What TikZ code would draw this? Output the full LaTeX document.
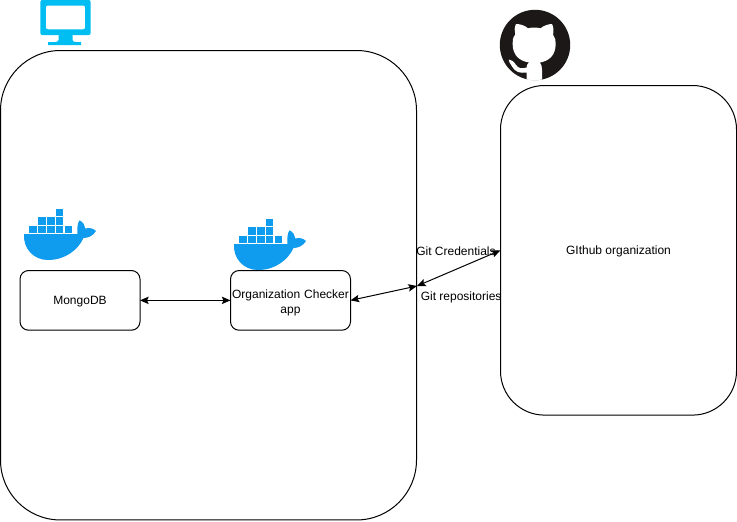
\documentclass[tikz,border=0pt]{standalone}
\usepackage{fontspec}
\setmainfont{Liberation Sans}
\usetikzlibrary{arrows.meta}
\definecolor{whaleblue}{HTML}{0F9BEE}
\definecolor{screenblue}{HTML}{00BEF2}
\definecolor{ghblack}{HTML}{1B1817}
\newcommand{\dn}[1]{\raisebox{-3.4pt}[0pt][0pt]{#1}}
\tikzset{
  box/.style={draw=black,line width=0.75pt,fill=white,rounded corners=#1,inner sep=0pt,outer sep=0pt,anchor=north west,align=center,font=\fontsize{9pt}{11pt}\selectfont},
  box/.default=6.5pt,
  lbl/.style={font=\fontsize{9pt}{11pt}\selectfont,inner sep=0pt},
  link/.style={draw=black,line width=0.75pt,{Stealth[length=6.5pt,width=5.5pt,inset=1.2pt]}-{Stealth[length=6.5pt,width=5.5pt,inset=1.2pt]}},
  crate/.style={fill=whaleblue,draw=none},
}
\newcommand{\mywhale}[2]{%
\begin{scope}[shift={(#1,#2)}]
  \foreach \cx in {29.3,38.1,47,55.8,64.7}{\path[crate] (\cx,226) rectangle ++(7.6,7);}
  \foreach \cx in {38.1,47,55.8}{\path[crate] (\cx,217.2) rectangle ++(7.6,7.4);}
  \path[crate] (55.8,209) rectangle ++(7.6,7);
  \path[fill=whaleblue] (24,234) -- (77.5,234)
    .. controls (77,228) and (77.5,223) .. (79.5,220.3)
    .. controls (83,222) and (85,225) .. (85.3,228.5)
    .. controls (89,227.6) and (93,228) .. (96,231)
    .. controls (93,236) and (88,238) .. (83.5,238)
    .. controls (78,250) and (65,260) .. (48,260)
    .. controls (33,260) and (23,248) .. (24,234) -- cycle;
\end{scope}}
\begin{document}
\begin{tikzpicture}[x=0.75pt,y=-0.75pt]
\useasboundingbox (0,0) rectangle (737,521);
\node[box=45pt,minimum width=312pt,minimum height=352.1pt] (host) at (0.5,50.5) {};
\node[box=33pt,minimum width=177pt,minimum height=247.2pt] (gh) at (500.5,85.5) {\dn{GIthub organization}};
\node[box,minimum width=90pt,minimum height=44.8pt] (mongo) at (20,270.5) {\dn{MongoDB}};
\node[box,minimum width=90pt,minimum height=44.8pt,text width=90pt] (app) at (230.5,270.5) {\rule{0pt}{10.5pt}Organization Checker\\[0.3pt]app};
\coordinate (mid) at (417,286);
\draw[link] (mongo.east) -- (app.west);
\draw[link] (app.east) -- (mid);
\draw[link] (mid) -- (gh.west);
\node[lbl,anchor=west] (credlabel) at (416,251) {Git Credentials};
\node[lbl,anchor=west] (repolabel) at (420.5,297) {Git repositories};
\mywhale{0}{0}
\mywhale{210}{10}
% monitor
\path[fill=screenblue,even odd rule,rounded corners=1.5pt] (40.3,0) rectangle (90.7,35) (45.8,5.5) rectangle (85.2,29.3);
\path[fill=screenblue] (58.5,35) -- (72.5,35) -- (72.5,40) .. controls (73,41.5) and (74,42) .. (76,42) -- (81,42) -- (81,45) -- (48,45) -- (48,42) -- (55,42) .. controls (57,42) and (58,41.5) .. (58.5,40) -- cycle;
% github mark
\path[fill=ghblack] (535,45) circle[radius=35.2];
\path[fill=white] (516,24) .. controls (520,24) and (525,25.5) .. (528,28.3)
  .. controls (532,27.3) and (536.5,27.3) .. (540.5,28.3)
  .. controls (544,25.5) and (548.5,24) .. (552,24)
  .. controls (553.5,27) and (554,31) .. (553,34.5)
  .. controls (555,37.5) and (556,40.5) .. (555.7,44)
  .. controls (555.5,56) and (548.5,61) .. (540,62.5)
  .. controls (541.5,64.5) and (542,67) .. (542,70)
  -- (542,79.5) .. controls (537,80.5) and (532,80.5) .. (526.5,79.5)
  -- (526.5,72.5)
  .. controls (520,73.5) and (515,72) .. (512,66.5)
  .. controls (510,63) and (508,60.5) .. (509,59.5)
  .. controls (512,59.5) and (514,62) .. (516,65)
  .. controls (518.5,68.5) and (522,69) .. (526.5,67.5)
  .. controls (526.5,65.5) and (527.5,63.5) .. (529,62.5)
  .. controls (520,61) and (512.8,56) .. (512.6,44)
  .. controls (512.3,40.5) and (513,37.5) .. (515.2,34.5)
  .. controls (514.2,31) and (514.5,27) .. (516,24) -- cycle;
\end{tikzpicture}
\end{document}
